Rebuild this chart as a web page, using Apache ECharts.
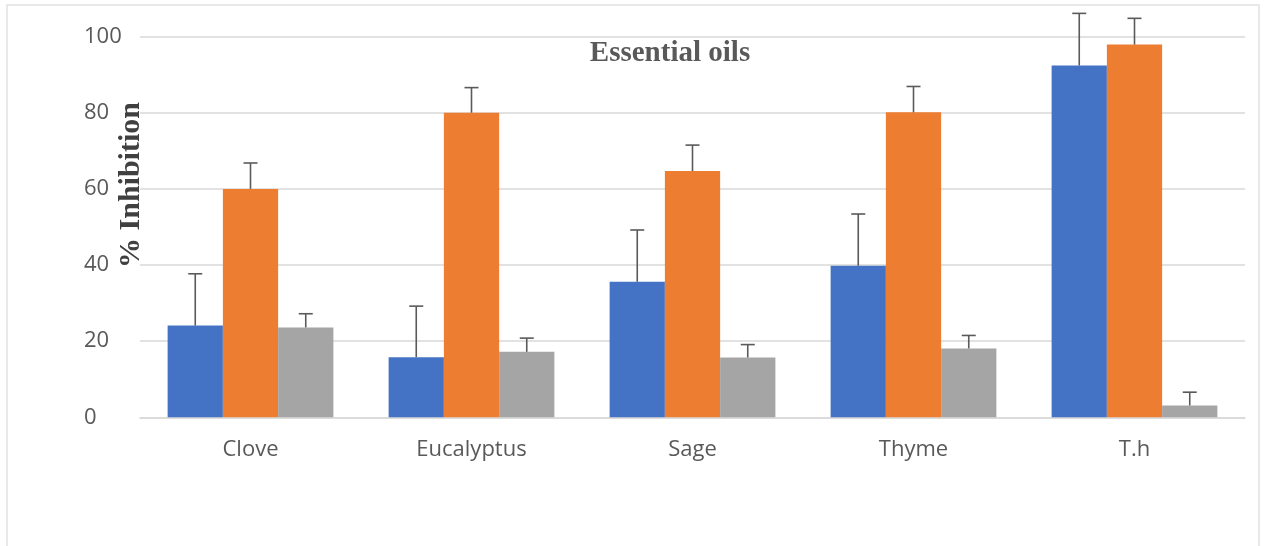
<!DOCTYPE html>
<html>
<head>
<meta charset="utf-8">
<script src="https://cdn.jsdelivr.net/npm/echarts@6/dist/echarts.min.js"></script>
<style>
  html, body { margin: 0; padding: 0; background: #fff; }
  #chart { width: 1271px; height: 546px; }
</style>
</head>
<body>
<div id="chart"></div>
<script>
var categories = ['Clove', 'Eucalyptus', 'Sage', 'Thyme', 'T.h'];
// bar heights
var blueVals   = [24.1, 15.8, 35.6, 39.8, 92.4];
var orangeVals = [60.0, 80.0, 64.7, 80.1, 97.9];
var grayVals   = [23.6, 17.2, 15.7, 18.1, 3.1];
// upper error (size of the whisker)
var blueErr   = [13.6, 13.4, 13.6, 13.6, 13.7];
var orangeErr = [6.8, 6.6, 6.8, 6.8, 6.9];
var grayErr   = [3.6, 3.6, 3.4, 3.4, 3.5];
var yTicks = [0, 20, 40, 60, 80, 100];

var chart = echarts.init(document.getElementById('chart'));

var barGapPct = 0.25;   // barCategoryGap

// whisker drawn above the bar, idx = position of series inside the group
function errorSeries(vals, errs, idx) {
  var data = vals.map(function (v, i) { return [i, v, v + errs[i]]; });
  return {
    type: 'custom',
    silent: true,
    clip: false,
    z: 10,
    data: data,
    renderItem: function (params, api) {
      var band = api.size([1, 0])[0];
      var barW = band * (1 - barGapPct) / 3;
      var c = api.coord([api.value(0), api.value(1)]);
      var top = api.coord([api.value(0), api.value(2)]);
      var x = c[0] + (idx - 1) * barW;
      var cap = 7;
      var st = { stroke: '#5a5a5a', lineWidth: 1.6 };
      return {
        type: 'group',
        children: [
          { type: 'line', shape: { x1: x, y1: c[1], x2: x, y2: top[1] }, style: st },
          { type: 'line', shape: { x1: x - cap, y1: top[1], x2: x + cap, y2: top[1] }, style: st }
        ]
      };
    }
  };
}

var option = {
  animation: false,
  backgroundColor: '#fff',
  title: {
    text: 'Essential oils',
    left: 665,
    top: 34,
    textAlign: 'center',
    textStyle: {
      fontFamily: 'Liberation Serif',
      fontWeight: 'bold',
      fontSize: 29,
      color: '#595959'
    }
  },
  graphic: [
    {
      type: 'rect',
      shape: { x: 7, y: 5, width: 1252, height: 560 },
      style: { fill: 'none', stroke: '#e2e2e2', lineWidth: 1.5 },
      silent: true
    },
    {
      type: 'text',
      x: 131,
      y: 185,
      rotation: Math.PI / 2,
      style: {
        text: '% Inhibition',
        fontFamily: 'Liberation Serif',
        fontWeight: 'bold',
        fontSize: 30,
        fill: '#404040',
        align: 'center',
        verticalAlign: 'middle'
      }
    }
  ],
  grid: {
    left: 140,
    right: 26,
    top: 36.6,
    bottom: 128.7
  },
  xAxis: {
    type: 'category',
    data: categories,
    axisLine: { show: true, lineStyle: { color: '#d9d9d9', width: 1.5 } },
    axisTick: { show: false },
    axisLabel: {
      margin: 21,
      fontFamily: 'Open Sans',
      fontSize: 22,
      color: '#595959'
    }
  },
  yAxis: {
    type: 'value',
    min: 0,
    max: 100,
    interval: 20,
    axisLine: { show: false },
    axisTick: { show: false },
    splitLine: { lineStyle: { color: '#d9d9d9', width: 1.5 } },
    axisLabel: {
      margin: 56,
      align: 'left',
      fontFamily: 'Open Sans',
      fontSize: 22,
      color: '#595959',
      formatter: function (v) { return yTicks.indexOf(v) >= 0 ? String(v) : ''; }
    }
  },
  series: [
    { type: 'bar', data: blueVals, barGap: '0%', barCategoryGap: '25%', itemStyle: { color: '#4472C4' } },
    { type: 'bar', data: orangeVals, barGap: '0%', barCategoryGap: '25%', itemStyle: { color: '#ED7D31' } },
    { type: 'bar', data: grayVals, barGap: '0%', barCategoryGap: '25%', itemStyle: { color: '#A5A5A5' } },
    errorSeries(blueVals, blueErr, 0),
    errorSeries(orangeVals, orangeErr, 1),
    errorSeries(grayVals, grayErr, 2)
  ]
};

chart.setOption(option);
</script>
</body>
</html>
